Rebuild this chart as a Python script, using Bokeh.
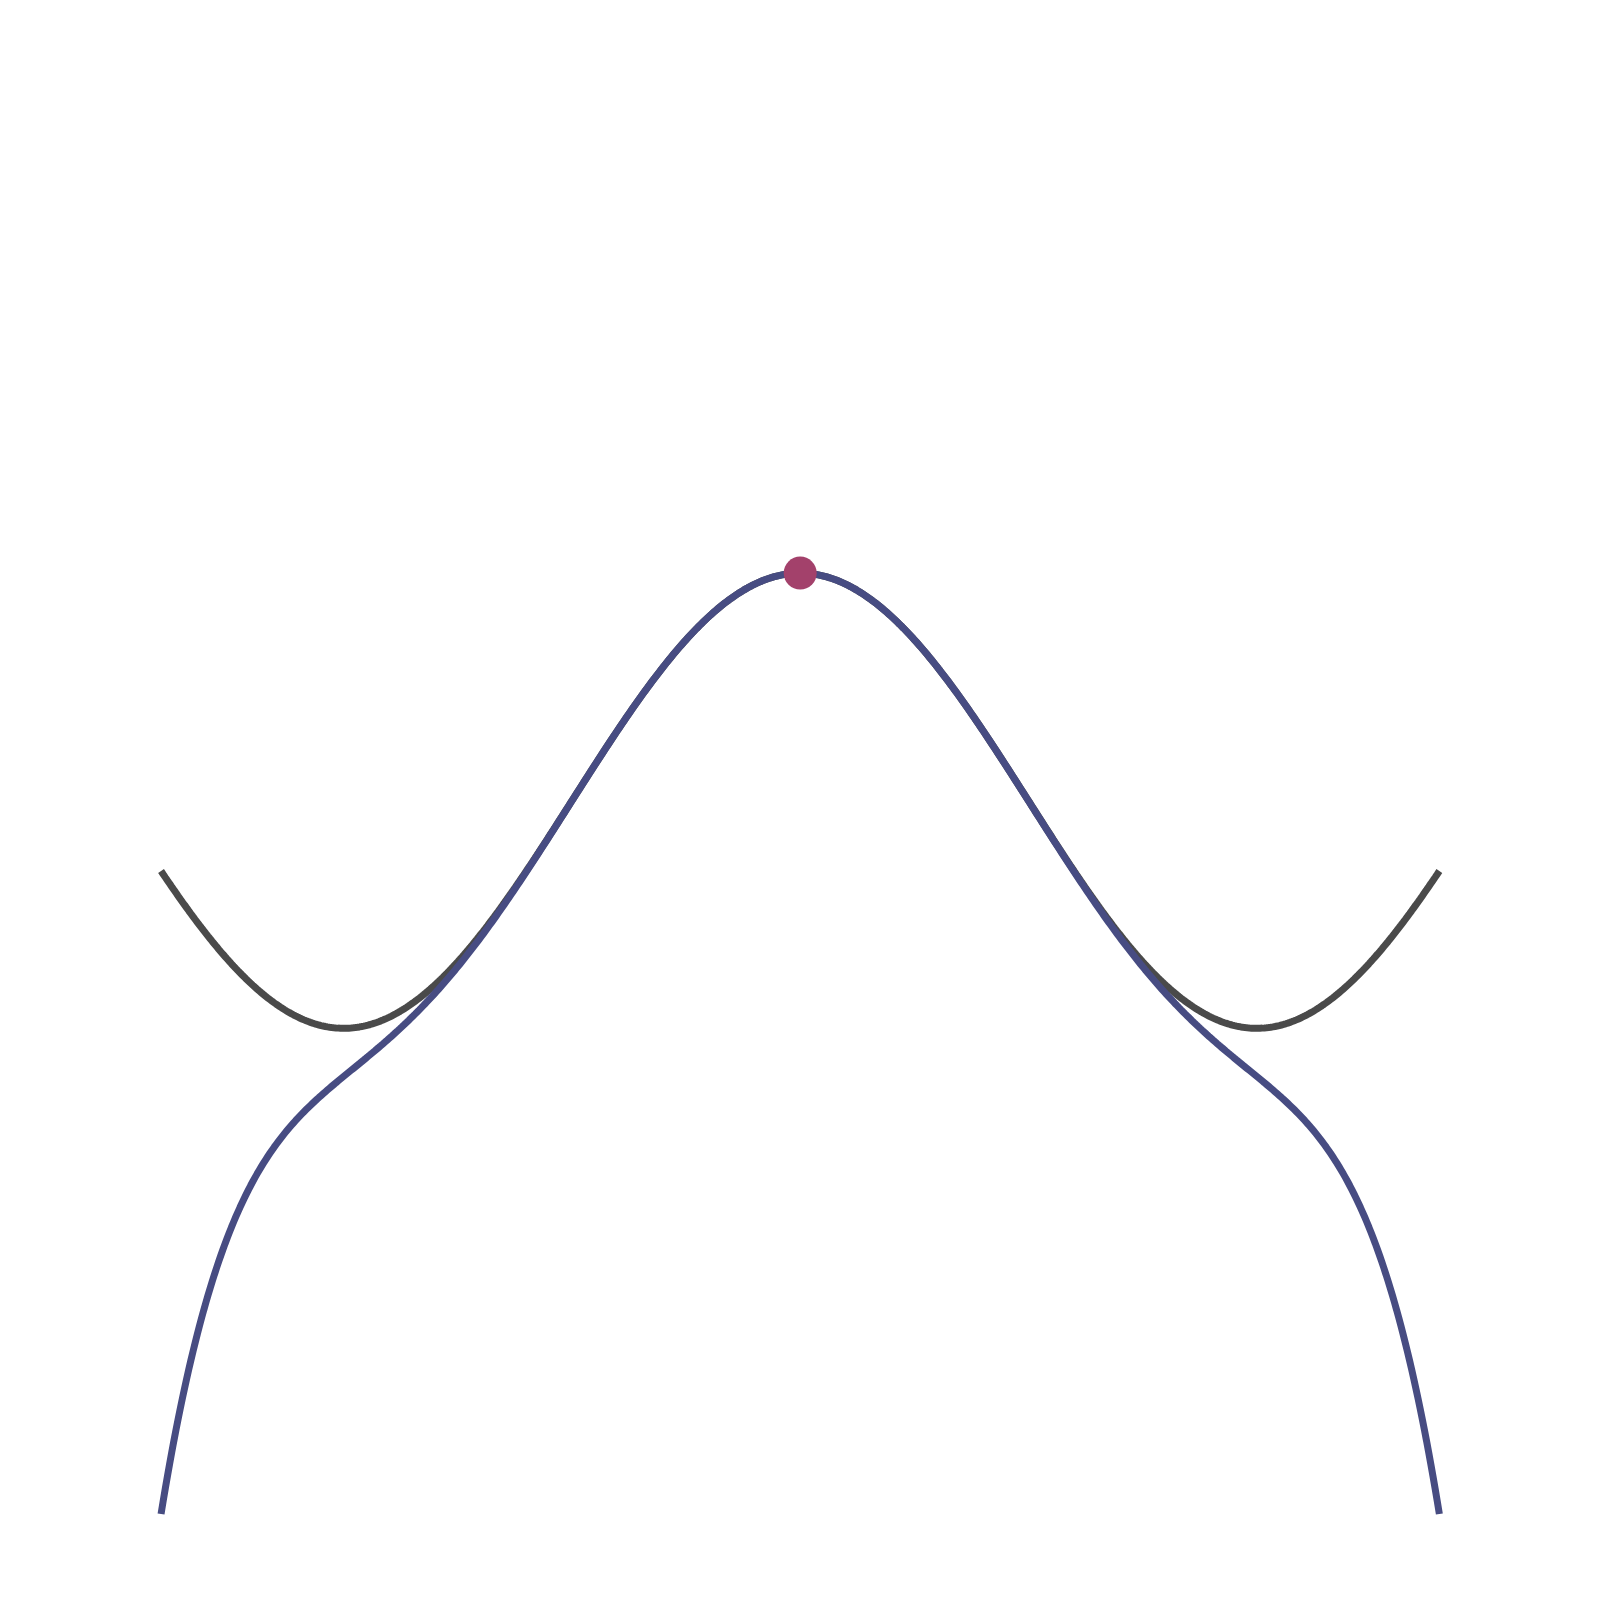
import numpy as np
from bokeh.plotting import figure
from bokeh.embed import file_html
from bokeh.resources import INLINE

# Data: cos(x) and its 6th-degree Maclaurin polynomial on [-1.4*pi, 1.4*pi]
x_start, x_end = -1.4 * np.pi, 1.4 * np.pi
taylor_coeffs = [1.0, 0.0, -1.0 / 2, 0.0, 1.0 / 24, 0.0, -1.0 / 720]  # ascending powers
expansion_point = [0.0]
expansion_value = [1.0]

xs = np.linspace(x_start, x_end, 600)
cos_vals = np.cos(xs)
taylor_vals = np.polynomial.polynomial.polyval(xs, taylor_coeffs)

p = figure(width=1584, height=1584, output_backend="svg", toolbar_location=None,
           x_range=(-5.503, 5.397), y_range=(-3.444, 3.516), min_border=0)
p.axis.visible = False
p.grid.visible = False
p.outline_line_color = None
p.background_fill_color = "white"

p.line(xs, cos_vals, line_color="#4a4a4a", line_width=7)
p.line(xs, taylor_vals, line_color="#474c82", line_width=7)
p.scatter(expansion_point, expansion_value, size=33, fill_color="#a3416b", line_color=None)

open("out.html", "w").write(file_html(p, INLINE))
